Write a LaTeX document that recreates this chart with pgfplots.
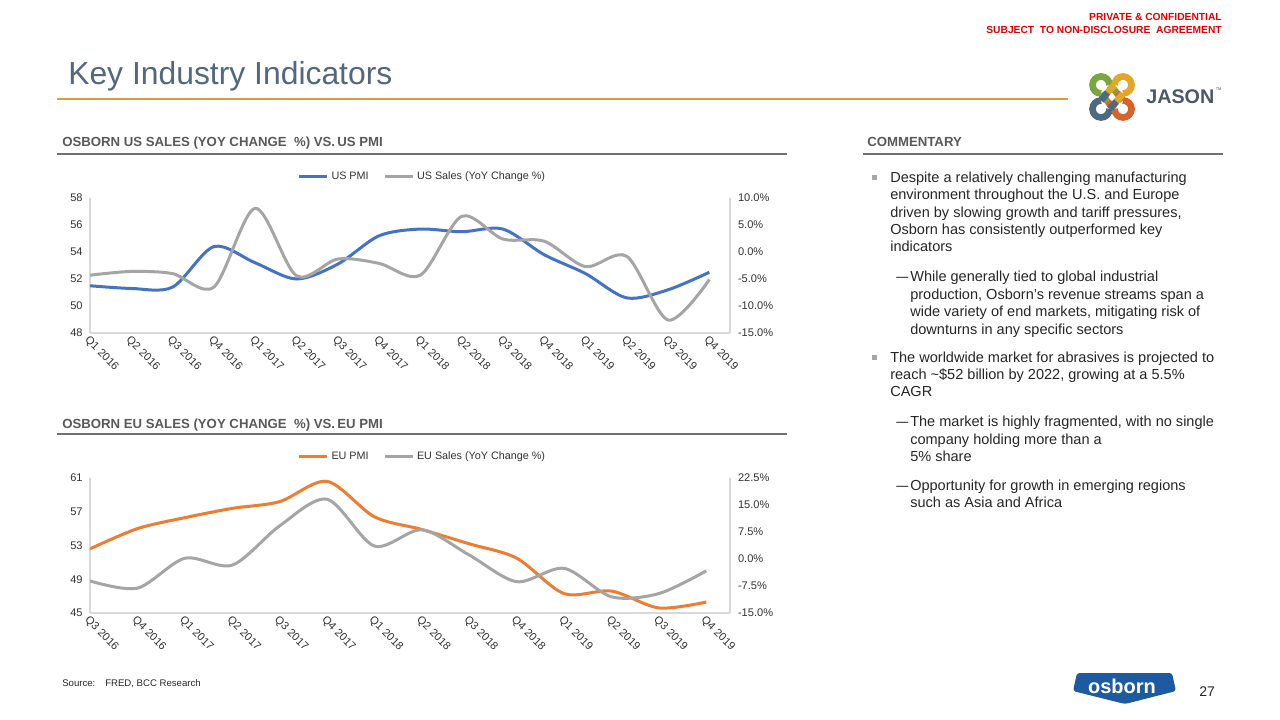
\documentclass[border=0pt]{standalone}
\usepackage{pgfplots}
\pgfplotsset{compat=1.18}
\usepackage{fontspec}
\setmainfont{Liberation Sans}

\definecolor{usblue}{RGB}{68,114,196}
\definecolor{sgray}{RGB}{165,165,165}
\definecolor{euorange}{RGB}{237,125,49}
\definecolor{axgray}{RGB}{217,217,217}
\definecolor{tickcol}{RGB}{50,50,50}
\definecolor{titleblue}{RGB}{83,103,126}
\definecolor{rulegold}{RGB}{212,162,55}
\definecolor{hdrgray}{RGB}{89,89,89}
\definecolor{rulegray}{RGB}{112,112,112}
\definecolor{bodytxt}{RGB}{38,38,38}
\definecolor{conf}{RGB}{230,0,0}
\definecolor{osbblue}{RGB}{30,90,160}
\definecolor{jasongray}{RGB}{74,88,104}
\definecolor{jgreen}{RGB}{122,166,64}
\definecolor{jgold}{RGB}{227,165,42}
\definecolor{jslate}{RGB}{78,106,128}
\definecolor{jorange}{RGB}{217,98,43}

\pgfplotsset{
  slide/.style={
    scale only axis, width=480pt, height=101.25pt, xmin=0,
    axis line style={draw=axgray, line width=1.3pt},
    tick style={draw=none},
    /pgf/number format/assume math mode=true,
    ticklabel style={font=\fontsize{8.3}{10}\selectfont, text=tickcol},
  },
  rightax/.style={
    slide, axis y line*=right, axis x line=none,
    yticklabel={\pgfmathprintnumber[fixed,fixed zerofill,precision=1]{\tick}\%},
    yticklabel style={xshift=2.5pt},
    legend columns=2,
    legend style={at={(axis description cs:0.52,1.16)}, anchor=center,
      draw=none, fill=none, font=\fontsize{8.1}{10}\selectfont, text=tickcol,
      /tikz/every even column/.append style={column sep=9pt}},
    legend image code/.code={\draw[#1] (0pt,0pt) -- (21pt,0pt);},
  },
  leftax/.style={
    slide, axis x line*=bottom, axis y line*=left,
    yticklabel style={xshift=-2pt},
    x tick label style={rotate=-45, anchor=north west, inner sep=1pt},
  },
  serie/.style={smooth, line width=2.25pt, no markers, color=#1},
}

\newcommand\bodyline[3]{\node[anchor=base west, inner sep=0, text=bodytxt,
  font=\fontsize{10.9}{13}\selectfont] at (#1,#2) {#3};}
\newcommand\dashline[2]{\node[anchor=base west, inner sep=0, text=bodytxt,
  font=\fontsize{10.9}{13}\selectfont] at (#1,#2) {\scalebox{0.82}[1]{—}};}

\begin{document}
\begin{tikzpicture}
\begin{scope}[x=0.75pt, y=-0.75pt]
  \path[use as bounding box, fill=white] (0,0) rectangle (1280,720);

  % confidentiality note
  \node[anchor=base east, inner sep=0, text=conf, font=\bfseries\fontsize{7.7}{9}\selectfont]
    at (1222,21) {PRIVATE \& CONFIDENTIAL};
  \node[anchor=base east, inner sep=0, text=conf, font=\bfseries\fontsize{7.7}{9}\selectfont]
    at (1222,34) {SUBJECT\ \ TO NON-DISCLOSURE\ \ AGREEMENT};

  % title
  \node[anchor=base west, inner sep=0, text=titleblue, font=\fontsize{23.9}{28}\selectfont]
    at (68,85) {Key Industry Indicators};
  \draw[rulegold, line width=1.5pt] (57,99) -- (1068,99);

  % JASON logo
  \begin{scope}[line width=5pt]
    \draw[jgreen]  (1101,85) ++(90:8.5)  arc[start angle=90,  end angle=360, radius=8.5];
    \draw[jgold]   (1123,85) ++(180:8.5) arc[start angle=180, end angle=450, radius=8.5];
    \draw[jslate]  (1101,109) ++(0:8.5)  arc[start angle=0,   end angle=270, radius=8.5];
    \draw[jorange] (1123,109) ++(270:8.5) arc[start angle=270, end angle=540, radius=8.5];
    \draw[jgreen]  (1109.5,85) -- (1116.5,92.5);
    \draw[jorange] (1116.5,92.5) -- (1123,100.5);
    \draw[jgreen]  (1101,93.5) -- (1107.5,101.5);
    \draw[jorange] (1107.5,101.5) -- (1114.5,109);
    \draw[jgold]   (1114.5,85) -- (1107.5,92.5);
    \draw[jslate]  (1107.5,92.5) -- (1101,100.5);
    \draw[jgold]   (1123,93.5) -- (1116.5,101.5);
    \draw[jslate]  (1116.5,101.5) -- (1109.5,109);
  \end{scope}
  \node[anchor=base west, inner sep=0, text=jasongray, font=\bfseries\fontsize{14.8}{15}\selectfont]
    at (1146,104) {JASON};
  \node[anchor=base west, inner sep=0, text=jasongray, font=\fontsize{3}{3}\selectfont]
    at (1215.5,91) {TM};

  % section headers
  \node[anchor=base west, inner sep=0, text=hdrgray, font=\bfseries\fontsize{9.9}{12}\selectfont]
    at (62,147) {OSBORN US SALES (YOY CHANGE\ \ \%) VS.\,US PMI};
  \draw[rulegray, line width=1.6pt] (57,154) -- (787,154);
  \node[anchor=base west, inner sep=0, text=hdrgray, font=\bfseries\fontsize{9.9}{12}\selectfont]
    at (62,428) {OSBORN EU SALES (YOY CHANGE\ \ \%) VS.\,EU PMI};
  \draw[rulegray, line width=1.6pt] (57,434) -- (787,434);
  \node[anchor=base west, inner sep=0, text=hdrgray, font=\bfseries\fontsize{9.9}{12}\selectfont]
    at (867,147) {COMMENTARY};
  \draw[rulegray, line width=1.6pt] (863,154) -- (1223,154);

  % commentary
  \fill[gray!70] (872,175) rectangle (877,180);
  \bodyline{890}{182.5}{Despite a relatively challenging manufacturing}
  \bodyline{890}{199.8}{environment throughout the U.S. and Europe}
  \bodyline{890}{217.1}{driven by slowing growth and tariff pressures,}
  \bodyline{890}{234.4}{Osborn has consistently outperformed key}
  \bodyline{890}{251.7}{indicators}
  \dashline{896}{281.5}
  \bodyline{910}{281.5}{While generally tied to global industrial}
  \bodyline{910}{299}{production, Osborn’s revenue streams span a}
  \bodyline{910}{316.5}{wide variety of end markets, mitigating risk of}
  \bodyline{910}{334}{downturns in any specific sectors}
  \fill[gray!70] (872,354.5) rectangle (877,359.5);
  \bodyline{890}{362.5}{The worldwide market for abrasives is projected to}
  \bodyline{890}{379.5}{reach \textasciitilde\$52 billion by 2022, growing at a 5.5\%}
  \bodyline{890}{396.5}{CAGR}
  \dashline{896}{426.5}
  \bodyline{910}{426.5}{The market is highly fragmented, with no single}
  \bodyline{910}{444}{company holding more than a}
  \bodyline{910}{461.5}{5\% share}
  \dashline{896}{490}
  \bodyline{910}{490}{Opportunity for growth in emerging regions}
  \bodyline{910}{507.5}{such as Asia and Africa}

  % footer
  \node[anchor=base west, inner sep=0, text=bodytxt, font=\fontsize{7.2}{9}\selectfont]
    at (62,686) {Source:};
  \node[anchor=base west, inner sep=0, text=bodytxt, font=\fontsize{7.2}{9}\selectfont]
    at (105,686) {FRED, BCC Research};
  \fill[osbblue, rounded corners=2pt] (1077,673) -- (1172,673) -- (1176,691)
    -- (1125,704) -- (1073,691) -- cycle;
  \node[text=white, font=\bfseries\fontsize{15}{15}\selectfont] at (1122,686) {osborn};
  \node[anchor=base west, inner sep=0, text=bodytxt, font=\fontsize{10.5}{12}\selectfont]
    at (1199,696) {27};
\end{scope}

% ---- US chart ----
\begin{axis}[leftax, at={(67.5pt,-249.75pt)}, anchor=south west,
  xmax=15.5, ymin=48, ymax=58, ytick={48,50,...,58},
  xtick={0,...,15},
  xticklabels={Q1 2016,Q2 2016,Q3 2016,Q4 2016,Q1 2017,Q2 2017,Q3 2017,Q4 2017,
    Q1 2018,Q2 2018,Q3 2018,Q4 2018,Q1 2019,Q2 2019,Q3 2019,Q4 2019}]
  \addplot[serie=usblue] coordinates {
    (0,51.5) (1,51.3) (2,51.4) (3,54.4) (4,53.2) (5,52.0) (6,53.1) (7,55.2)
    (8,55.7) (9,55.5) (10,55.7) (11,53.8) (12,52.4) (13,50.6) (14,51.2) (15,52.5)
  };
\end{axis}
\begin{axis}[rightax, at={(67.5pt,-249.75pt)}, anchor=south west,
  xmax=15.5, ymin=-15, ymax=10, ytick={-15,-10,...,10}]
  \addlegendimage{serie=usblue}
  \addlegendentry{US PMI}
  \addplot[serie=sgray] coordinates {
    (0,-4.3) (1,-3.6) (2,-4.0) (3,-6.5) (4,8.1) (5,-4.4) (6,-1.3) (7,-2.1)
    (8,-4.3) (9,6.6) (10,2.4) (11,2.0) (12,-2.7) (13,-0.8) (14,-12.6) (15,-5.1)
  };
  \addlegendentry{US Sales (YoY Change \%)}
\end{axis}

% ---- EU chart ----
\begin{axis}[leftax, at={(67.5pt,-459.75pt)}, anchor=south west,
  xmax=13.5, ymin=45, ymax=61, ytick={45,49,...,61},
  xtick={0,...,13},
  xticklabels={Q3 2016,Q4 2016,Q1 2017,Q2 2017,Q3 2017,Q4 2017,Q1 2018,Q2 2018,
    Q3 2018,Q4 2018,Q1 2019,Q2 2019,Q3 2019,Q4 2019}]
  \addplot[serie=euorange] coordinates {
    (0,52.6) (1,55.0) (2,56.3) (3,57.4) (4,58.2) (5,60.6) (6,56.4) (7,54.9)
    (8,53.2) (9,51.5) (10,47.3) (11,47.6) (12,45.6) (13,46.3)
  };
\end{axis}
\begin{axis}[rightax, at={(67.5pt,-459.75pt)}, anchor=south west,
  xmax=13.5, ymin=-15, ymax=22.5, ytick={-15,-7.5,0,7.5,15,22.5}]
  \addlegendimage{serie=euorange}
  \addlegendentry{EU PMI}
  \addplot[serie=sgray] coordinates {
    (0,-6.1) (1,-8.1) (2,0.2) (3,-1.7) (4,9.2) (5,16.6) (6,3.6) (7,8.1)
    (8,1.1) (9,-6.3) (10,-2.6) (11,-10.5) (12,-9.6) (13,-3.3)
  };
  \addlegendentry{EU Sales (YoY Change \%)}
\end{axis}
\end{tikzpicture}
\end{document}
